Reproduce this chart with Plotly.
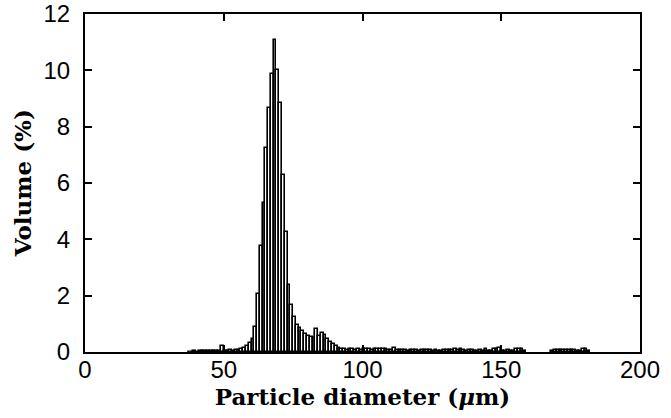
import plotly.graph_objects as go

# Particle size distribution: volume fraction per 1 µm diameter bin
bin_width_um = 1.0

diameter_um = [
    37.5, 38.5, 39.5, 40.5, 41.5, 42.5, 43.5, 44.5, 45.5, 46.5,
    47.5, 48.5, 49.5, 50.5, 51.5, 52.5, 53.5, 54.5, 55.5, 56.5,
    57.5, 58.5, 59.5, 60.5, 61.5, 62.5, 63.5, 64.5, 65.5, 66.5,
    67.5, 68.5, 69.5, 70.5, 71.5, 72.5, 73.5, 74.5, 75.5, 76.5,
    77.5, 78.5, 79.5, 80.5, 81.5, 82.5, 83.5, 84.5, 85.5, 86.5,
    87.5, 88.5, 89.5, 90.5, 91.5, 92.5, 93.5, 94.5, 95.5, 96.5,
    97.5, 98.5, 99.5, 100.5, 101.5, 102.5, 103.5, 104.5, 105.5, 106.5,
    107.5, 108.5, 109.5, 110.5, 111.5, 112.5, 113.5, 114.5, 115.5, 116.5,
    117.5, 118.5, 119.5, 120.5, 121.5, 122.5, 123.5, 124.5, 125.5, 126.5,
    127.5, 128.5, 129.5, 130.5, 131.5, 132.5, 133.5, 134.5, 135.5, 136.5,
    137.5, 138.5, 139.5, 140.5, 141.5, 142.5, 143.5, 144.5, 145.5, 146.5,
    147.5, 148.5, 149.5, 150.5, 151.5, 152.5, 153.5, 154.5, 155.5, 156.5,
    157.5, 158.5,
    168.5, 169.5, 170.5, 171.5, 172.5, 173.5, 174.5, 175.5, 176.5, 177.5,
    178.5, 179.5, 180.5, 181.5,
]

volume_pct = [
    0.01, 0.01, 0.02, 0.01, 0.02, 0.02, 0.03, 0.02, 0.03, 0.04,
    0.03, 0.04, 0.21, 0.05, 0.04, 0.06, 0.05, 0.07, 0.08, 0.10,
    0.13, 0.20, 0.32, 0.47, 0.89, 2.07, 3.76, 5.30, 7.23, 8.68,
    9.86, 11.08, 10.00, 8.83, 6.28, 4.25, 2.38, 1.67, 1.25, 0.95,
    0.86, 0.74, 0.63, 0.57, 0.53, 0.50, 0.80, 0.56, 0.68, 0.59,
    0.47, 0.37, 0.28, 0.20, 0.14, 0.10, 0.12, 0.08, 0.12, 0.12,
    0.06, 0.10, 0.06, 0.10, 0.10, 0.10, 0.06, 0.10, 0.10, 0.10,
    0.12, 0.12, 0.06, 0.06, 0.14, 0.08, 0.08, 0.08, 0.08, 0.05,
    0.08, 0.08, 0.06, 0.04, 0.06, 0.06, 0.08, 0.06, 0.04, 0.06,
    0.04, 0.04, 0.06, 0.06, 0.08, 0.08, 0.10, 0.06, 0.10, 0.06,
    0.04, 0.06, 0.06, 0.04, 0.04, 0.06, 0.04, 0.12, 0.04, 0.04,
    0.10, 0.10, 0.14, 0.04, 0.05, 0.06, 0.04, 0.04, 0.10, 0.10,
    0.10, 0.04,
    0.04, 0.06, 0.06, 0.06, 0.06, 0.08, 0.08, 0.06, 0.06, 0.04,
    0.04, 0.10, 0.10, 0.04,
]

x_ticks = [0, 50, 100, 150, 200]
y_ticks = [0, 2, 4, 6, 8, 10, 12]

tick_font = dict(family="Liberation Sans, Arial, sans-serif", size=24, color="black")
title_font = dict(family="DejaVu Serif, serif", size=23, color="black")

fig = go.Figure(
    go.Bar(
        x=diameter_um,
        y=volume_pct,
        width=bin_width_um,
        marker=dict(color="white", line=dict(color="black", width=1.6)),
        showlegend=False,
    )
)

fig.update_layout(
    width=671,
    height=418,
    margin=dict(l=85, r=31, t=14, b=66),
    paper_bgcolor="white",
    plot_bgcolor="white",
    bargap=0,
)

fig.update_xaxes(
    range=[0, 200],
    tickvals=x_ticks,
    ticks="inside",
    ticklen=7,
    tickwidth=1.5,
    tickcolor="black",
    showline=True,
    linecolor="black",
    linewidth=2,
    mirror="ticks",
    showgrid=False,
    zeroline=False,
    automargin=False,
    tickfont=tick_font,
    ticklabelstandoff=-5,
    title=dict(text="<b>Particle diameter (<i>μ</i>m)</b>", font=title_font, standoff=3),
)

fig.update_yaxes(
    range=[0, 12],
    tickvals=y_ticks,
    ticks="inside",
    ticklen=7,
    tickwidth=1.5,
    tickcolor="black",
    showline=True,
    linecolor="black",
    linewidth=2,
    mirror="ticks",
    showgrid=False,
    zeroline=False,
    automargin=False,
    tickfont=tick_font,
    ticklabelstandoff=8,
)

# Vertical y-axis title, placed to the left of the tick labels
fig.add_annotation(
    text="<b>Volume (%)</b>",
    font=title_font,
    textangle=-90,
    xref="paper",
    yref="paper",
    x=-0.113,
    y=0.5,
    xanchor="center",
    yanchor="middle",
    showarrow=False,
)

fig.write_html("out.html")
